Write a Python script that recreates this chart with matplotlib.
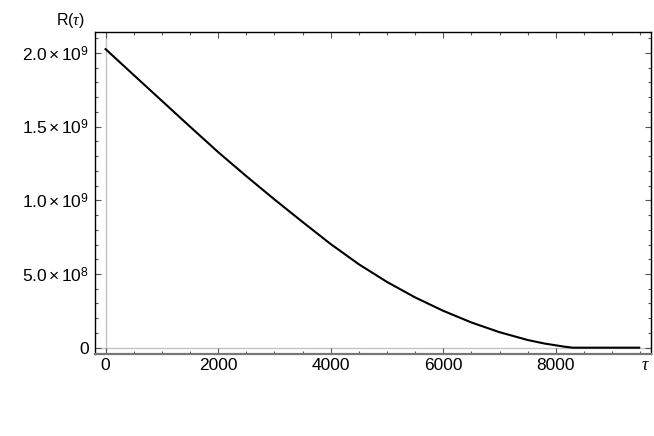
import matplotlib
matplotlib.use("Agg")
import matplotlib.pyplot as plt
from matplotlib.ticker import MultipleLocator, FixedLocator

plt.rcParams["font.family"] = ["Liberation Sans", "DejaVu Sans"]
plt.rcParams["mathtext.fontset"] = "custom"
plt.rcParams["mathtext.rm"] = "Liberation Sans"
plt.rcParams["mathtext.it"] = "Liberation Serif:italic"

# values
tau = [0, 500, 1000, 1500, 2000, 2500, 3000, 3500, 4000, 4500, 5000,
       5500, 6000, 6500, 7000, 7500, 7800, 8000, 8150, 8300, 9000, 9480]
R = [2.026e9, 1.85e9, 1.675e9, 1.50e9, 1.327e9, 1.164e9, 1.006e9, 0.853e9,
     0.703e9, 0.566e9, 0.446e9, 0.341e9, 0.250e9, 0.171e9, 0.105e9,
     0.052e9, 0.028e9, 0.016e9, 0.007e9, 0.0, 0.0, 0.0]

yticks = [0, 5e8, 1e9, 1.5e9, 2e9]
ylabels = ["0", r"$5.0\times10^{8}$", r"$1.0\times10^{9}$",
           r"$1.5\times10^{9}$", r"$2.0\times10^{9}$"]
xticks = [0, 2000, 4000, 6000, 8000]

fig = plt.figure(figsize=(6.54, 4.36), dpi=100)
ax = fig.add_axes([0.1453, 0.1888, 0.8501, 0.7367])

ax.axvline(0, color="#c4c4c4", lw=1.0, zorder=1)
ax.axhline(0, color="#c4c4c4", lw=1.0, zorder=1)
ax.plot(tau, R, color="black", lw=1.5, zorder=3)

ax.set_xlim(-188, 9690)
ax.set_ylim(-4.07e7, 2.139e9)

ax.xaxis.set_major_locator(FixedLocator(xticks))
ax.xaxis.set_minor_locator(MultipleLocator(500))
ax.set_yticks(yticks)
ax.set_yticklabels(ylabels)
ax.yaxis.set_minor_locator(MultipleLocator(1e8))

ax.tick_params(which="both", direction="in", top=True, right=True,
               color="#555555", width=0.8, labelsize=12.5)
ax.tick_params(axis="x", pad=3)
ax.tick_params(axis="y", pad=4)
ax.tick_params(which="major", length=4)
ax.tick_params(which="minor", length=2)

for side in ["left", "top", "right"]:
    ax.spines[side].set_color("black")
    ax.spines[side].set_linewidth(1.0)
ax.spines["bottom"].set_color("#777777")
ax.spines["bottom"].set_linewidth(1.6)

fig.text(70 / 654, 1 - 21 / 436, r"R($\tau$)", ha="center", va="center", fontsize=11.5)
fig.text(645 / 654, 1 - 366 / 436, r"$\tau$", ha="center", va="center", fontsize=13)

fig.savefig("out.png", dpi=100)
